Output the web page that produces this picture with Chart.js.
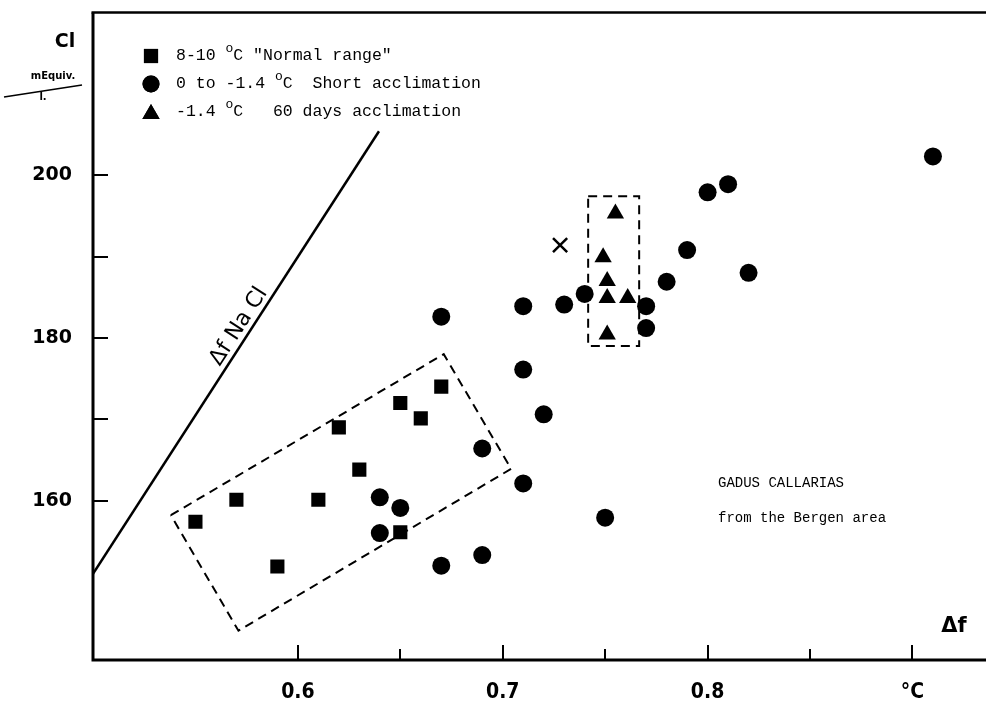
<!DOCTYPE html>
<html>
<head>
<meta charset="utf-8">
<style>
  html, body { margin: 0; padding: 0; background: #fff; overflow: hidden; }
  #wrap { position: relative; width: 986px; height: 705px; }
</style>
<script src="https://cdn.jsdelivr.net/npm/chart.js@4/dist/chart.umd.min.js"></script>
</head>
<body>
<div id="wrap"><canvas id="c" width="986" height="705"></canvas></div>
<script>
// Freezing point depression (Δf, °C) against plasma chloride (Cl, mEquiv./l)

// 8-10 °C "Normal range"
const normalX = [0.55, 0.57, 0.59, 0.61, 0.62, 0.63, 0.65, 0.66, 0.67, 0.65];
const normalY = [157.4, 160.1, 151.9, 160.1, 169.0, 163.8, 172.0, 170.1, 174.0, 156.1];

// 0 to -1.4 °C  Short acclimation
const shortX = [0.64, 0.65, 0.64, 0.67, 0.69, 0.69, 0.67, 0.71, 0.71, 0.72, 0.71,
                0.73, 0.74, 0.77, 0.77, 0.78, 0.79, 0.80, 0.81, 0.82, 0.91, 0.75];
const shortY = [160.4, 159.1, 156.0, 152.0, 153.3, 166.4, 182.6, 183.9, 176.1, 170.6, 162.1,
                184.1, 185.4, 183.9, 181.2, 186.9, 190.8, 197.9, 198.9, 188.0, 202.3, 157.9];

// -1.4 °C  60 days acclimation
const longX = [0.755, 0.749, 0.751, 0.751, 0.761, 0.751];
const longY = [195.3, 189.9, 187.0, 184.9, 184.9, 180.4];

// single cross-marked value
const crossX = [0.728];
const crossY = [191.4];

// Δf NaCl reference line
const naclX = [0.5, 0.6396];
const naclY = [151.0, 205.4];

// dashed group outlines (closed polygons)
const boxNormalX = [0.538, 0.6712, 0.7041, 0.571, 0.538];
const boxNormalY = [158.2, 178.0, 163.9, 144.0, 158.2];
const boxLongX = [0.7417, 0.7666, 0.7666, 0.7417, 0.7417];
const boxLongY = [197.4, 197.4, 179.0, 179.0, 197.4];

// axis ticks and labels
const xTickValues = [0.6, 0.7, 0.8, 0.9];
const xTickLabels = ['0.6', '0.7', '0.8', '°C'];
const xMinorValues = [0.65, 0.75, 0.85];
const yTickValues = [160, 170, 180, 190, 200];
const yLabelValues = [160, 180, 200];
const yLabelTexts = ['160', '180', '200'];

// legend rows: text before the degree sign, degree "o", text after
const legendPre = ['8-10 ', '0 to -1.4 ', '-1.4 '];
const legendPost = ['C "Normal range"', 'C  Short acclimation', 'C   60 days acclimation'];
const legendStyles = ['rect', 'circle', 'triangle'];

const X_MIN = 0.5, X_MAX = 0.9298, Y_MIN = 140.4, Y_MAX = 220;

const pts = (xs, ys) => xs.map((x, i) => ({ x: x, y: ys[i] }));

const framePlugin = {
  id: 'frame',
  afterDraw(chart) {
    const ctx = chart.ctx;
    const a = chart.chartArea;
    const xs = chart.scales.x, ys = chart.scales.y;
    const rightEdge = chart.width;
    ctx.save();
    ctx.strokeStyle = '#000';
    ctx.fillStyle = '#000';
    ctx.lineCap = 'butt';

    // frame: left axis, bottom axis, top border (running off the right edge)
    ctx.lineWidth = 3;
    ctx.beginPath();
    ctx.moveTo(a.left, a.top);
    ctx.lineTo(a.left, a.bottom);
    ctx.lineTo(rightEdge, a.bottom);
    ctx.stroke();
    ctx.lineWidth = 2.5;
    ctx.beginPath();
    ctx.moveTo(a.left - 1.5, a.top);
    ctx.lineTo(rightEdge, a.top);
    ctx.stroke();

    // inward tick marks
    ctx.lineWidth = 2;
    xTickValues.forEach(v => {
      const px = Math.round(xs.getPixelForValue(v));
      ctx.beginPath(); ctx.moveTo(px, a.bottom); ctx.lineTo(px, a.bottom - 15); ctx.stroke();
    });
    xMinorValues.forEach(v => {
      const px = Math.round(xs.getPixelForValue(v));
      ctx.beginPath(); ctx.moveTo(px, a.bottom); ctx.lineTo(px, a.bottom - 11); ctx.stroke();
    });
    yTickValues.forEach(v => {
      const py = Math.round(ys.getPixelForValue(v));
      ctx.beginPath(); ctx.moveTo(a.left, py); ctx.lineTo(a.left + 15, py); ctx.stroke();
    });

    // y-axis title: Cl over mEquiv./l
    ctx.textAlign = 'center';
    ctx.textBaseline = 'middle';
    ctx.font = 'bold 19px "DejaVu Sans", sans-serif';
    ctx.fillText('Cl', 65, 42);
    ctx.font = 'bold 10px "DejaVu Sans", sans-serif';
    ctx.fillText('mEquiv.', 53, 76);
    ctx.fillText('l.', 43, 97);
    ctx.lineWidth = 1.5;
    ctx.beginPath(); ctx.moveTo(4, 97); ctx.lineTo(82, 85); ctx.stroke();

    // x-axis quantity
    ctx.font = 'bold 21px "DejaVu Sans", sans-serif';
    ctx.fillText('\u0394f', 954, 627);

    // label along the NaCl line
    const p0x = xs.getPixelForValue(naclX[0]), p0y = ys.getPixelForValue(naclY[0]);
    const p1x = xs.getPixelForValue(naclX[1]), p1y = ys.getPixelForValue(naclY[1]);
    const ang = Math.atan2(p1y - p0y, p1x - p0x);
    ctx.save();
    ctx.translate(xs.getPixelForValue(0.5712), ys.getPixelForValue(181.4));
    ctx.rotate(ang);
    ctx.font = '22px "DejaVu Sans", sans-serif';
    ctx.fillText('\u0394f Na Cl', 0, 0);
    ctx.restore();

    // species note
    ctx.textAlign = 'left';
    ctx.font = '14px "Liberation Mono", monospace';
    ctx.fillText('GADUS CALLARIAS', 718, 483);
    ctx.fillText('from the Bergen area', 718, 518);

    // legend
    const rowY = [56, 84, 112];
    legendStyles.forEach((st, i) => {
      Chart.helpers.drawPoint(ctx, {
        pointStyle: st, radius: st === 'circle' ? 8.5 : 10,
        rotation: 0, borderWidth: 0
      }, 151, rowY[i] + (st === 'triangle' ? 2 : 0));
      ctx.fill();
      let tx = 176;
      ctx.font = '16.5px "Liberation Mono", monospace';
      ctx.fillText(legendPre[i], tx, rowY[i]);
      tx += ctx.measureText(legendPre[i]).width;
      ctx.font = '13px "Liberation Mono", monospace';
      ctx.fillText('o', tx, rowY[i] - 7);
      tx += ctx.measureText('o').width;
      ctx.font = '16.5px "Liberation Mono", monospace';
      ctx.fillText(legendPost[i], tx, rowY[i]);
    });
    ctx.restore();
  }
};

const lineSet = (xs, ys, dash, width) => ({
  type: 'scatter', data: pts(xs, ys), showLine: true, borderColor: '#000',
  borderWidth: width, borderDash: dash, pointRadius: 0, fill: false, tension: 0
});

new Chart(document.getElementById('c'), {
  type: 'scatter',
  data: {
    datasets: [
      lineSet(naclX, naclY, [], 2.5),
      lineSet(boxNormalX, boxNormalY, [9, 6], 2),
      lineSet(boxLongX, boxLongY, [9, 6], 2),
      { label: '8-10 °C "Normal range"', data: pts(normalX, normalY), pointStyle: 'rect',
        pointRadius: 10, backgroundColor: '#000', borderWidth: 0 },
      { label: '0 to -1.4 °C  Short acclimation', data: pts(shortX, shortY), pointStyle: 'circle',
        pointRadius: 9, backgroundColor: '#000', borderWidth: 0 },
      { label: '-1.4 °C  60 days acclimation', data: pts(longX, longY), pointStyle: 'triangle',
        pointRadius: 10, backgroundColor: '#000', borderWidth: 0 },
      { label: 'x', data: pts(crossX, crossY), pointStyle: 'crossRot',
        pointRadius: 10, borderColor: '#000', borderWidth: 2.5, backgroundColor: '#000' }
    ]
  },
  options: {
    responsive: false,
    animation: false,
    devicePixelRatio: 1,
    layout: { padding: { top: 11, left: 0, right: 0, bottom: 0 } },
    plugins: { legend: { display: false }, tooltip: { enabled: false } },
    scales: {
      x: {
        type: 'linear', min: X_MIN, max: X_MAX,
        afterFit: s => { s.height = 45; s.paddingLeft = 0; s.paddingRight = 0; },
        grid: { display: false, drawTicks: false },
        border: { display: false },
        ticks: {
          stepSize: 0.05, includeBounds: false, autoSkip: false, maxRotation: 0,
          padding: 20, color: '#000',
          font: { family: '"Liberation Sans Narrow", "DejaVu Sans Condensed", "Liberation Sans", sans-serif', size: 21, weight: 'bold' },
          callback: v => {
            const i = xTickValues.findIndex(t => Math.abs(t - v) < 1e-6);
            return i >= 0 ? xTickLabels[i] : '';
          }
        }
      },
      y: {
        type: 'linear', min: Y_MIN, max: Y_MAX,
        afterFit: s => { s.width = 93; s.paddingTop = 0; s.paddingBottom = 0; },
        grid: { display: false, drawTicks: false },
        border: { display: false },
        ticks: {
          stepSize: 10, includeBounds: false, autoSkip: false,
          padding: 21, color: '#000',
          font: { family: '"DejaVu Sans", sans-serif', size: 19, weight: 'bold' },
          callback: v => {
            const i = yLabelValues.findIndex(t => Math.abs(t - v) < 1e-6);
            return i >= 0 ? yLabelTexts[i] : '';
          }
        }
      }
    }
  },
  plugins: [framePlugin]
});
</script>
</body>
</html>
